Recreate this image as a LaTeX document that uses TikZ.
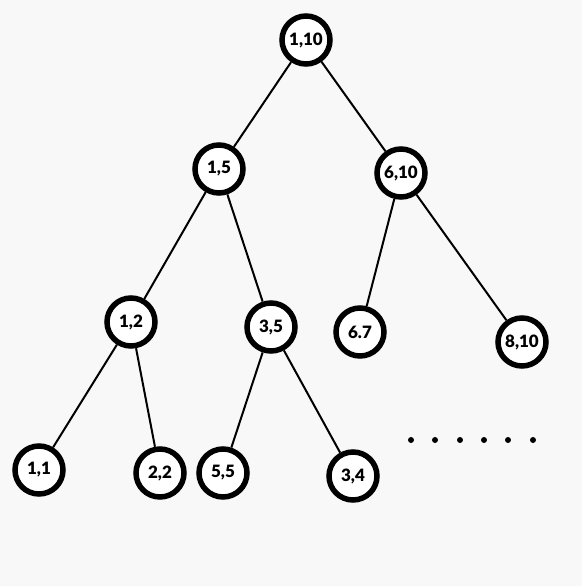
\documentclass[tikz,border=0pt]{standalone}
\usepackage{fontspec}
\setmainfont{Lato}[BoldFont={Lato Black}]
\usetikzlibrary{positioning}
\definecolor{bgpaper}{HTML}{F8F8F8}
\tikzset{circ/.style = {draw, circle, fill=white, line width=5.5, inner sep=0,
                        minimum size=48, font=\fontsize{17}{19}\selectfont\bfseries}}
\tikzset{edge/.style = {line width=2}}

\begin{document}
\begin{tikzpicture}[x=1pt, y=-1pt]
    % Background
    \fill[bgpaper] (0,0) rectangle (582,586);
    \useasboundingbox (0,0) rectangle (582,586);

    \node[circ] (r) at (306, 40) {1,10};
    \node[circ] (a) at (219, 169) {1,5};
    \node[circ] (b) at (401, 173) {6,10};
    \node[circ] (aa) at (131, 322) {1,2};
    \node[circ] (ab) at (271, 327) {3,5};
    \node[circ] (ba) at (360, 332) {6.7};
    \node[circ] (bb) at (522, 342) {8,10};
    \node[circ] (aaa) at (39, 470) {1,1};
    \node[circ] (aab) at (160, 473) {2,2};
    \node[circ] (aba) at (223, 473) {5,5};
    \node[circ] (abb) at (353, 476) {3,4};

    % Edges
    \begin{scope}[edge]
        \draw (r) -- (a);
        \draw (r) -- (b);
        \draw (a) -- (aa);
        \draw (a) -- (ab);
        \draw (b) -- (ba);
        \draw (b) -- (bb);
        \draw (aa) -- (aaa);
        \draw (aa) -- (aab);
        \draw (ab) -- (aba);
        \draw (ab) -- (abb);
    \end{scope}

    % Dots
    \foreach \x in {411, 435, 460, 484, 508, 533}
        \fill (\x, 440) circle (3);
\end{tikzpicture}
\end{document}
